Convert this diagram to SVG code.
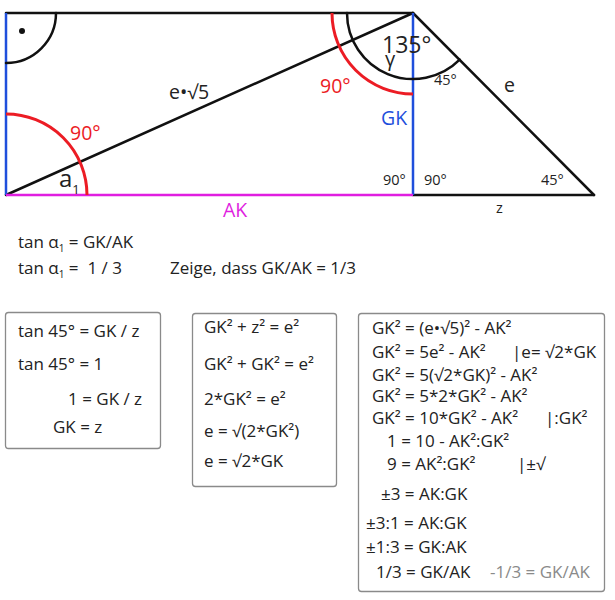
<svg xmlns="http://www.w3.org/2000/svg" width="615" height="600" viewBox="0 0 615 600">
<style>
text{font-family:"Open Sans","Noto Sans","DejaVu Sans",sans-serif;fill:#222}
.ln{stroke:#111;stroke-width:2.5;fill:none;stroke-linecap:round}
.bl{stroke:#1f4fdc;stroke-width:2.5;fill:none}
.mg{stroke:#e01ee0;stroke-width:2.5;fill:none}
.rd{stroke:#ec1c24;stroke-width:3;fill:none}
.box{fill:#fff;stroke:#8a8a8a;stroke-width:1.3}
.t17{font-size:17px}
.t14{font-size:14.5px}
.t19{font-size:19.5px}
.pre{white-space:pre}
</style>
<rect width="615" height="600" fill="#fff"/>
<g id="figure">
<g id="connectors">
<line class="ln" x1="6" y1="13" x2="413" y2="13"/>
<line class="ln" x1="6" y1="195" x2="413" y2="13"/>
<line class="ln" x1="413" y1="13" x2="594" y2="195"/>
<line class="ln" x1="413" y1="195" x2="594" y2="195"/>
<line class="bl" x1="6" y1="13" x2="6" y2="195"/>
<line class="bl" x1="413" y1="13" x2="413" y2="195"/>
<line class="mg" x1="6" y1="195" x2="413" y2="195"/>
</g>
<g id="angles">
<path class="ln" d="M56,13 A50,50 0 0 1 6,63"/>
<circle cx="22" cy="31" r="3" fill="#111"/>
<path class="rd" d="M6,114 A81,81 0 0 1 87,195"/>
<path class="rd" d="M332,13 A81,81 0 0 0 413,94"/>
<path class="ln" d="M347,13 A66,66 0 0 0 459.7,59.7"/>
</g>
<g id="labels">
<text class="t19" x="70" y="140" style="fill:#ec1c24">90°</text>
<text x="59" y="187" style="font-size:24px">a<tspan dy="7" style="font-size:13px">1</tspan></text>
<text class="t19" x="169" y="99">e•√5</text>
<text class="t19" x="223" y="217" style="fill:#e01ee0">AK</text>
<text class="t19" x="320" y="93" style="fill:#ec1c24">90°</text>
<text x="382" y="53" style="font-size:23px">135°</text>
<text x="385" y="66" style="font-size:20px">γ</text>
<text class="t14" x="434" y="85">45°</text>
<text class="t19" x="504" y="92">e</text>
<text class="t19" x="381" y="125" style="fill:#1f4fdc">GK</text>
<text class="t14" x="383" y="185">90°</text>
<text class="t14" x="424" y="185">90°</text>
<text class="t14" x="541" y="185">45°</text>
<text class="t14" x="496" y="213">z</text>
</g>
</g>
<g id="intro">
<text class="t17 pre" x="18" y="248" xml:space="preserve">tan α<tspan dy="4" style="font-size:10px">1</tspan><tspan dy="-4"> = GK/AK</tspan></text>
<text class="t17 pre" x="18" y="274" xml:space="preserve">tan α<tspan dy="4" style="font-size:10px">1</tspan><tspan dy="-4"> =  1 / 3</tspan></text>
<text class="t17" x="170" y="274">Zeige, dass GK/AK = 1/3</text>
</g>
<g id="box1">
<rect class="box" x="5.5" y="312.5" width="155" height="136" rx="3"/>
<text class="t17" x="18" y="337">tan 45° = GK / z</text>
<text class="t17" x="18" y="370">tan 45° = 1</text>
<text class="t17" x="68" y="405">1 = GK / z</text>
<text class="t17" x="53" y="433">GK = z</text>
</g>
<g id="box2">
<rect class="box" x="192.5" y="313.5" width="144" height="173" rx="3"/>
<text class="t17" x="204" y="333">GK² + z² = e²</text>
<text class="t17" x="204" y="370">GK² + GK² = e²</text>
<text class="t17" x="204" y="405">2*GK² = e²</text>
<text class="t17" x="204" y="437">e = √(2*GK²)</text>
<text class="t17" x="204" y="467">e = √2*GK</text>
</g>
<g id="box3">
<rect class="box" x="358.5" y="313.5" width="246" height="278" rx="3"/>
<text class="t17" x="372" y="334">GK² = (e•√5)² - AK²</text>
<text class="t17" x="372" y="358">GK² = 5e² - AK²</text>
<text class="t17" x="512" y="358">|e= √2*GK</text>
<text class="t17" x="372" y="381">GK² = 5(√2*GK)² - AK²</text>
<text class="t17" x="372" y="402">GK² = 5*2*GK² - AK²</text>
<text class="t17" x="372" y="424">GK² = 10*GK² - AK²</text>
<text class="t17" x="545" y="424">|:GK²</text>
<text class="t17" x="387" y="447">1 = 10 - AK²:GK²</text>
<text class="t17" x="387" y="470">9 = AK²:GK²</text>
<text class="t17" x="517" y="470">|±√</text>
<text class="t17" x="381" y="500">±3 = AK:GK</text>
<text class="t17" x="366" y="529">±3:1 = AK:GK</text>
<text class="t17" x="366" y="553">±1:3 = GK:AK</text>
<text class="t17" x="376" y="578">1/3 = GK/AK</text>
<text class="t17" x="490" y="578" style="fill:#8a8a8a">-1/3 = GK/AK</text>
</g>
</svg>
